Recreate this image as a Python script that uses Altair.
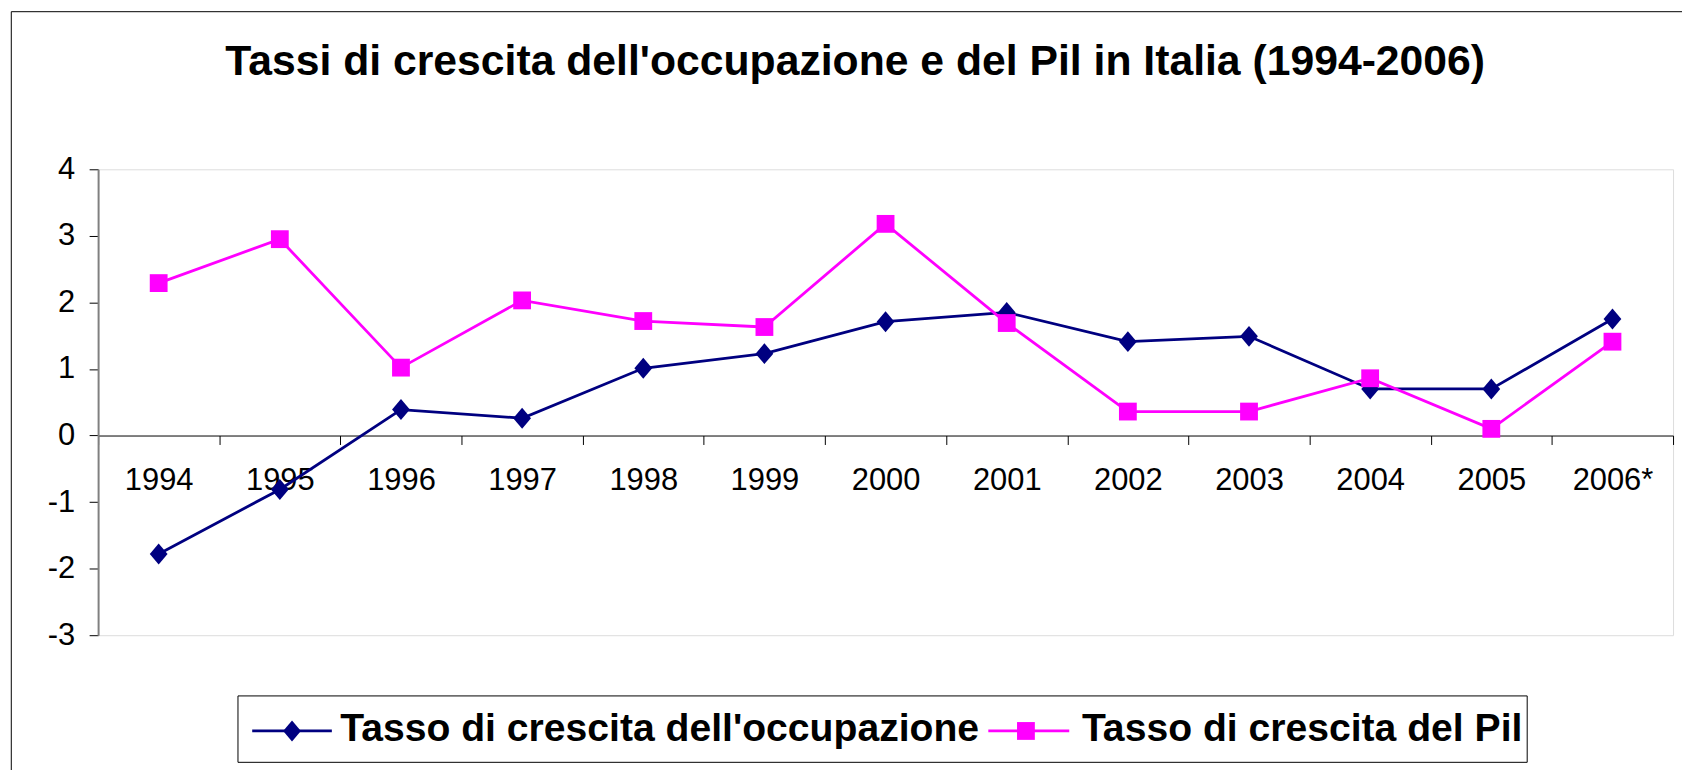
import altair as alt
import pandas as pd

# ---- data ----
anni = ["1994", "1995", "1996", "1997", "1998", "1999", "2000",
        "2001", "2002", "2003", "2004", "2005", "2006*"]
occupazione = [-1.78, -0.81, 0.39, 0.26, 1.01, 1.23, 1.71, 1.85, 1.41, 1.49, 0.70, 0.70, 1.75]
pil = [2.29, 2.95, 1.02, 2.03, 1.72, 1.63, 3.18, 1.69, 0.36, 0.36, 0.86, 0.10, 1.41]
serie = ["Tasso di crescita dell'occupazione", "Tasso di crescita del Pil"]
colori = ["#000080", "#FF00FF"]
y_ticks = [-3, -2, -1, 0, 1, 2, 3, 4]
titolo = "Tassi di crescita dell'occupazione e del Pil in Italia (1994-2006)"

df_occ = pd.DataFrame({"anno": anni, "valore": occupazione, "serie": serie[0]})
df_pil = pd.DataFrame({"anno": anni, "valore": pil, "serie": serie[1]})
one = pd.DataFrame({"k": [0]})

# ---- layout ----
W, H = 1582, 468
X0, Y0 = 98.5, 168.3          # page position of the plot area's top-left
FONT = "Liberation Sans"
DIAMOND = "M0,-1L0.85,0L0,1L-0.85,0Z"
LW = 2.8


def px(x):
    return x - X0


def py(y):
    return y - Y0


x_enc = alt.X(
    "anno:O", sort=anni, bandPosition=0.5,
    scale=alt.Scale(type="band", domain=anni, paddingInner=0, paddingOuter=0),
    axis=alt.Axis(title=None, orient="bottom", offset=-H * 3 / 7,
                  domainColor="black", domainWidth=1,
                  tickColor="black", tickSize=9, tickWidth=1, tickBand="extent",
                  labelFontSize=31, labelFont=FONT, labelColor="black",
                  labelPadding=21, labelAngle=0, labelOverlap=False, grid=False),
)
y_enc = alt.Y(
    "valore:Q",
    scale=alt.Scale(domain=[-3, 4], nice=False, zero=False),
    axis=alt.Axis(values=y_ticks, title=None, grid=False,
                  domainColor="#808080", domainWidth=2,
                  tickColor="black", tickSize=9, tickWidth=1,
                  labelFontSize=31, labelFont=FONT, labelColor="black",
                  labelPadding=14.5, labelExpr="datum.value + ''"),
)
col = alt.Color("serie:N", scale=alt.Scale(domain=serie, range=colori), legend=None)

line_occ = alt.Chart(df_occ).mark_line(strokeWidth=LW).encode(x=x_enc, y=y_enc, color=col)
pts_occ = alt.Chart(df_occ).mark_point(filled=True, opacity=1, size=441, shape=DIAMOND).encode(
    x=x_enc, y=y_enc, color=col)
line_pil = alt.Chart(df_pil).mark_line(strokeWidth=LW).encode(x=x_enc, y=y_enc, color=col)
pts_pil = alt.Chart(df_pil).mark_point(filled=True, opacity=1, size=320, shape="square").encode(
    x=x_enc, y=y_enc, color=col)

# outer chart frame
frame = alt.Chart(one).mark_rect(fillOpacity=0, stroke="black", strokeWidth=1).encode(
    x=alt.value(px(11.3)), x2=alt.value(px(1720)),
    y=alt.value(py(10)), y2=alt.value(py(800)))

# title
title = alt.Chart(one).mark_text(font=FONT, fontSize=42.9, fontWeight="bold", align="center",
                                 baseline="alphabetic", color="black").encode(
    x=alt.value(px(859)), y=alt.value(py(74)), text=alt.value(titolo))

# legend (drawn by hand, Excel style)
leg_box = alt.Chart(one).mark_rect(fill="white", stroke="black", strokeWidth=1).encode(
    x=alt.value(px(239)), x2=alt.value(px(1534)),
    y=alt.value(py(697.3)), y2=alt.value(py(764)))
leg_y = py(732.5)
LFS = 39.3
leg_line1 = alt.Chart(one).mark_rule(color=colori[0], strokeWidth=LW).encode(
    x=alt.value(px(253.3)), x2=alt.value(px(333.3)), y=alt.value(leg_y))
leg_pt1 = alt.Chart(one).mark_point(filled=True, opacity=1, size=441, shape=DIAMOND,
                                    color=colori[0]).encode(
    x=alt.value(px(293.3)), y=alt.value(leg_y))
leg_txt1 = alt.Chart(one).mark_text(font=FONT, fontSize=LFS, fontWeight="bold", align="left",
                                    baseline="alphabetic", color="black").encode(
    x=alt.value(px(341.7)), y=alt.value(py(742.7)), text=alt.value(serie[0]))
leg_line2 = alt.Chart(one).mark_rule(color=colori[1], strokeWidth=LW).encode(
    x=alt.value(px(992.7)), x2=alt.value(px(1074)), y=alt.value(leg_y))
leg_pt2 = alt.Chart(one).mark_point(filled=True, opacity=1, size=320, shape="square",
                                    color=colori[1]).encode(
    x=alt.value(px(1030.5)), y=alt.value(leg_y))
leg_txt2 = alt.Chart(one).mark_text(font=FONT, fontSize=LFS, fontWeight="bold", align="left",
                                    baseline="alphabetic", color="black").encode(
    x=alt.value(px(1086.7)), y=alt.value(py(742.7)), text=alt.value(serie[1]))

chart = alt.layer(
    frame, title,
    line_occ, pts_occ, line_pil, pts_pil,
    leg_box, leg_line1, leg_pt1, leg_txt1, leg_line2, leg_pt2, leg_txt2,
).properties(
    width=W, height=H,
    padding={"left": 90.5, "top": 160.3, "right": 9, "bottom": 134},
    autosize=alt.AutoSizeParams(type="none"),
).configure_view(
    stroke="#808080", strokeWidth=2
).configure(background="white")

chart.save("out.html", embed_options={"renderer": "svg", "actions": False})
